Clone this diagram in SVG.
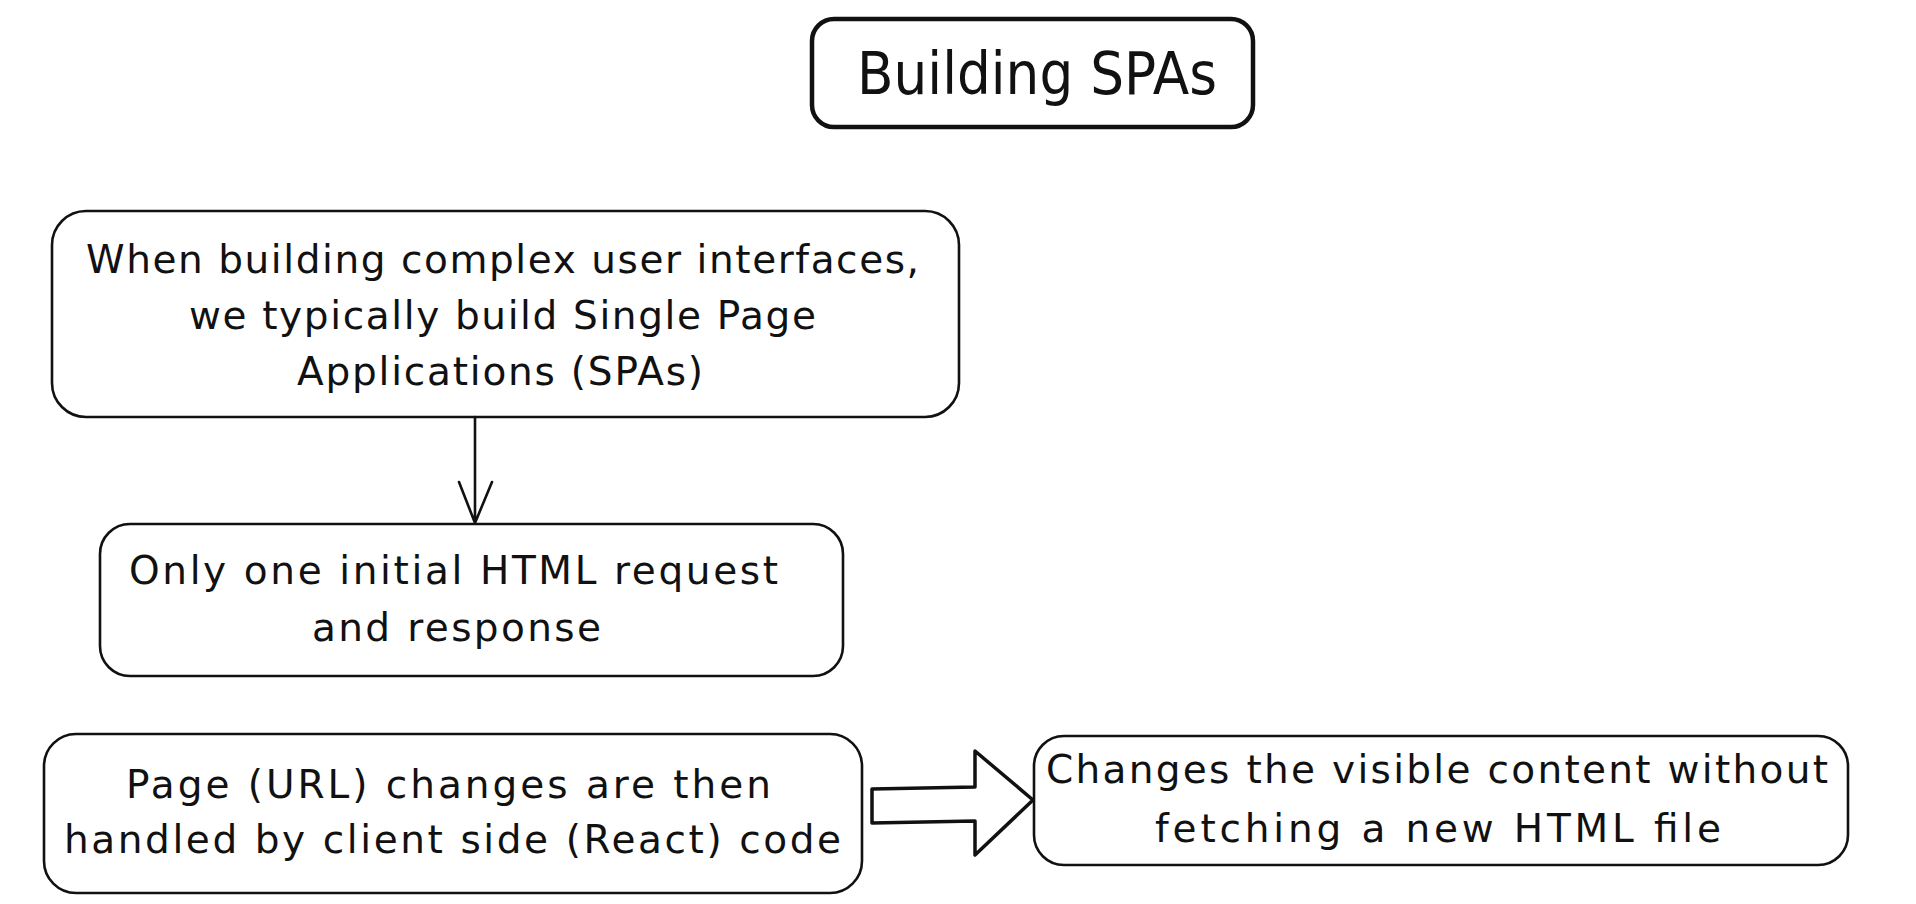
<svg xmlns="http://www.w3.org/2000/svg" width="1916" height="904" viewBox="0 0 1916 904">
<style>
.box{fill:#ffffff;stroke:#111;stroke-width:2.6}
.title-box{fill:#ffffff;stroke:#111;stroke-width:4.5}
.t{font-family:"DejaVu Sans","Liberation Sans",sans-serif;font-size:39px;fill:#111}
.tt{font-family:"DejaVu Sans","Liberation Sans",sans-serif;font-size:58px;fill:#111}
.conn{fill:none;stroke:#111;stroke-width:2.6;stroke-linecap:round;stroke-linejoin:round}
.block{fill:#ffffff;stroke:#111;stroke-width:3.5;stroke-linejoin:round}
</style>
<rect width="1916" height="904" fill="#ffffff"/>
<g id="title">
<rect class="title-box" x="812" y="19" width="441" height="108" rx="22"/>
<text class="tt" x="857" y="94" textLength="360" lengthAdjust="spacingAndGlyphs">Building SPAs</text>
</g>
<g id="node-spa">
<rect class="box" x="52" y="211" width="907" height="206" rx="34"/>
<text class="t" x="86" y="273" textLength="833">When building complex user interfaces,</text>
<text class="t" x="189" y="329" textLength="627">we typically build Single Page</text>
<text class="t" x="297" y="385" textLength="406">Applications (SPAs)</text>
</g>
<g id="node-initial">
<rect class="box" x="100" y="524" width="743" height="152" rx="30"/>
<text class="t" x="129" y="584" textLength="649">Only one initial HTML request</text>
<text class="t" x="312" y="641" textLength="289">and response</text>
</g>
<g id="node-client">
<rect class="box" x="44" y="734" width="818" height="159" rx="32"/>
<text class="t" x="126" y="798" textLength="645">Page (URL) changes are then</text>
<text class="t" x="64" y="853" textLength="777">handled by client side (React) code</text>
</g>
<g id="node-content">
<rect class="box" x="1034" y="736" width="814" height="129" rx="30"/>
<text class="t" x="1046" y="783" textLength="782">Changes the visible content without</text>
<text class="t" x="1155" y="842" textLength="566">fetching a new HTML file</text>
</g>
<g id="connectors">
<path class="conn" d="M475 417 L475 523 M459 482 L475 523 L492 482"/>
<polygon class="block" points="872,789 975,787 975,751 1033,800 975,855 975,821 872,823"/>
</g>
</svg>
